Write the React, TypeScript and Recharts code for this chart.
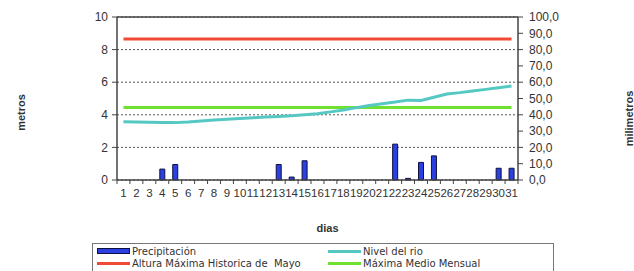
import React from 'react';
import { ComposedChart, Bar, Line, XAxis, YAxis, CartesianGrid, ReferenceLine } from 'recharts';

const dias = ['1', '2', '3', '4', '5', '6', '7', '8', '9', '10', '11', '12', '13', '14', '15', '16', '17', '18', '19', '20', '21', '22', '23', '24', '25', '26', '27', '28', '29', '30', '31'];

// mm, right axis
const precipitacion = [0, 0, 0, 6.7, 9.5, 0, 0, 0, 0, 0, 0, 0, 9.5, 1.8, 11.8, 0, 0, 0, 0, 0, 0, 22, 1, 10.8, 14.8, 0, 0, 0, 0, 7.2, 7.2];

// metros, left axis
const nivelRio = [3.58, 3.56, 3.54, 3.53, 3.52, 3.56, 3.62, 3.68, 3.72, 3.77, 3.82, 3.86, 3.9, 3.94, 4.0, 4.07, 4.18, 4.3, 4.44, 4.57, 4.68, 4.78, 4.9, 4.88, 5.08, 5.28, 5.36, 5.46, 5.56, 5.66, 5.76];

const ALTURA_MAXIMA_MAYO = 8.65;
const MAXIMA_MEDIO_MENSUAL = 4.45;

const leftTicks = [0, 2, 4, 6, 8, 10];
const rightTicks = [0, 10, 20, 30, 40, 50, 60, 70, 80, 90, 100];

const data = dias.map((d, i) => ({
  dia: d,
  precipitacion: precipitacion[i],
  nivel: nivelRio[i],
  alturaMax: ALTURA_MAXIMA_MAYO,
  maximaMedio: MAXIMA_MEDIO_MENSUAL,
}));

const textColor = '#333';
const axisColor = '#444';
const font = '"Liberation Sans", Arial, sans-serif';
const TICK_GAP = 9;

// day label with the tick mark drawn on the band boundary (between days)
function DayTick(props: any) {
  const { x, y, payload, index } = props;
  const half = payload && payload.offset ? payload.offset : 6.47;
  const axisY = y - TICK_GAP;
  const last = index === dias.length - 1;
  return (
    <g>
      <line x1={x - half} x2={x - half} y1={axisY} y2={axisY + 4} stroke={axisColor} />
      {last && <line x1={x + half} x2={x + half} y1={axisY} y2={axisY + 4} stroke={axisColor} />}
      <text x={x} y={y} dy="0.71em" textAnchor="middle" fontSize={11.5} fill={textColor} fontFamily={font}>
        {payload.value}
      </text>
    </g>
  );
}

const legendItems = [
  { label: 'Precipitación', color: '#2a40e0', bar: true },
  { label: 'Nivel del rio', color: '#55c8c4' },
  { label: 'Altura Máxima Historica de  Mayo', color: '#f04a35' },
  { label: 'Máxima Medio Mensual', color: '#70e030' },
];

function Legend() {
  return (
    <div style={{ position: 'absolute', left: 92, top: 243, width: 462, height: 32, border: '1px solid #777', boxSizing: 'border-box', fontFamily: '"DejaVu Sans", sans-serif', fontSize: 10, color: '#333' }}>
      {legendItems.map((it, i) => (
        <div key={it.label} style={{ position: 'absolute', left: i % 2 === 0 ? 4 : 235, top: i < 2 ? 1 : 13, height: 12, display: 'flex', alignItems: 'center', whiteSpace: 'pre' }}>
          {it.bar ? (
            <span style={{ display: 'inline-block', width: 31, height: 4, background: it.color, border: '1px solid #101040' }} />
          ) : (
            <span style={{ display: 'inline-block', width: 33, height: 3, background: it.color }} />
          )}
          <span style={{ marginLeft: 2 }}>{it.label}</span>
        </div>
      ))}
    </div>
  );
}

export default function App() {
  return (
    <div style={{ position: 'absolute', left: 0, top: 0, width: 634, height: 271, background: '#fff' }}>
      <ComposedChart width={634} height={271} data={data} margin={{ top: 17, right: 0, bottom: 36, left: 0 }}>
        <CartesianGrid vertical={false} stroke="#555" strokeDasharray="2 2" yAxisId="left" />
        <XAxis
          dataKey="dia"
          interval={0}
          height={55}
          tick={<DayTick />}
          tickLine={false}
          tickSize={0}
          tickMargin={TICK_GAP}
          axisLine={{ stroke: axisColor, strokeWidth: 1.5 }}
          label={{ value: 'dias', position: 'insideBottom', offset: 3, dx: 10, style: { fontSize: 11, fontWeight: 'bold', fill: textColor, fontFamily: font } }}
        />
        <YAxis
          yAxisId="left"
          width={117}
          domain={[0, 10]}
          ticks={leftTicks}
          interval={0}
          tick={{ fontSize: 12, fill: textColor, fontFamily: font }}
          tickSize={5}
          tickMargin={4}
          axisLine={{ stroke: axisColor, strokeWidth: 1.5 }}
          tickLine={{ stroke: axisColor }}
          label={{ value: 'metros', angle: -90, position: 'insideLeft', offset: 21, dy: 14, style: { textAnchor: 'middle', fontSize: 11, fontWeight: 'bold', fill: textColor, fontFamily: font } }}
        />
        <YAxis
          yAxisId="right"
          orientation="right"
          width={116}
          domain={[0, 100]}
          ticks={rightTicks}
          interval={0}
          tickFormatter={(v: number) => v.toFixed(1).replace('.', ',')}
          tick={{ fontSize: 12, fill: textColor, fontFamily: font }}
          tickSize={5}
          tickMargin={6}
          axisLine={{ stroke: axisColor, strokeWidth: 1.5 }}
          tickLine={{ stroke: axisColor }}
          label={{ value: 'milimetros', angle: -90, position: 'insideRight', offset: 5, dy: 20, style: { textAnchor: 'middle', fontSize: 11, fontWeight: 'bold', fill: textColor, fontFamily: font } }}
        />
        <ReferenceLine yAxisId="left" y={10} stroke={axisColor} strokeWidth={1.5} />
        <Bar yAxisId="right" dataKey="precipitacion" barSize={5} fill="#2a40e0" stroke="#101040" strokeWidth={1} isAnimationActive={false} />
        <Line yAxisId="left" dataKey="alturaMax" stroke="#f04a35" strokeWidth={3} dot={false} isAnimationActive={false} />
        <Line yAxisId="left" dataKey="maximaMedio" stroke="#70e030" strokeWidth={3} dot={false} isAnimationActive={false} />
        <Line yAxisId="left" dataKey="nivel" stroke="#55c8c4" strokeWidth={3} dot={false} isAnimationActive={false} />
      </ComposedChart>
      <Legend />
    </div>
  );
}
